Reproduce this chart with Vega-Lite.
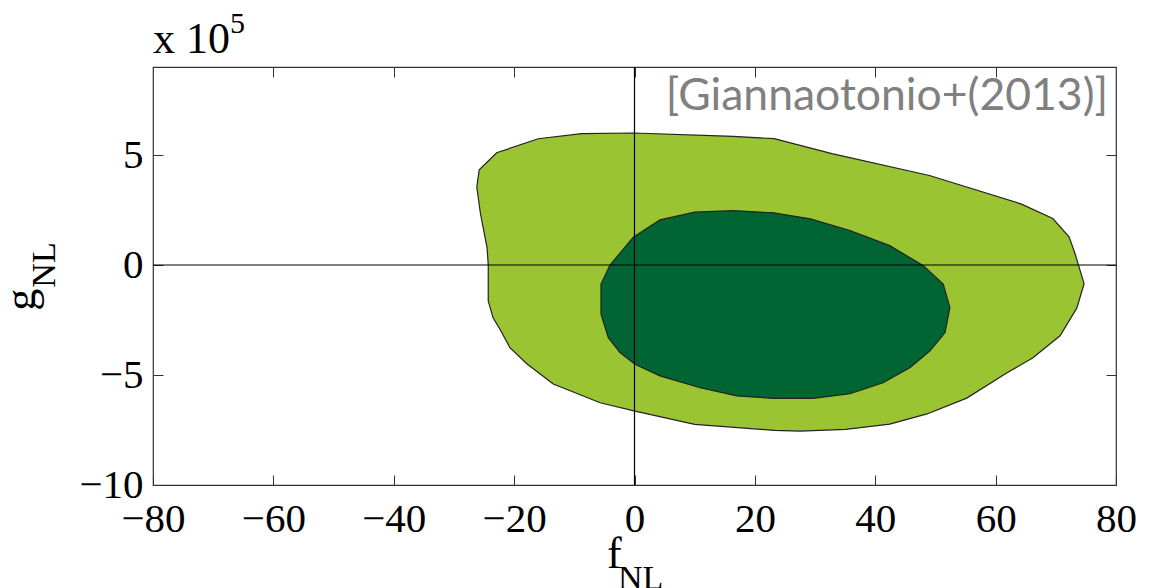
{
  "$schema": "https://vega.github.io/schema/vega-lite/v6.json",
  "width": 963,
  "height": 418,
  "autosize": "none",
  "padding": {"left": 153, "top": 67, "right": 35, "bottom": 103},
  "background": "white",
  "config": {
    "view": {"stroke": "#333", "strokeWidth": 1.2},
    "axis": {
      "grid": false,
      "domain": false,
      "tickSize": -10,
      "tickColor": "#333",
      "tickWidth": 1,
      "labelFont": "Liberation Serif",
      "labelFontSize": 41,
      "labelColor": "#000",
      "labelFlush": false,
      "labelOverlap": false,
      "title": null
    }
  },
  "datasets": {
    "outer": [
      {"i": 0, "f": -26.2, "g": 3.54}, {"i": 1, "f": -25.8, "g": 4.33}, {"i": 2, "f": -22.9, "g": 5.10},
      {"i": 3, "f": -16.0, "g": 5.74}, {"i": 4, "f": -8.8, "g": 5.97}, {"i": 5, "f": -0.1, "g": 6.00},
      {"i": 6, "f": 16.4, "g": 5.85}, {"i": 7, "f": 23.2, "g": 5.74}, {"i": 8, "f": 32.8, "g": 5.06},
      {"i": 9, "f": 49.0, "g": 4.07}, {"i": 10, "f": 64.2, "g": 2.78}, {"i": 11, "f": 69.5, "g": 2.11},
      {"i": 12, "f": 72.2, "g": 1.28}, {"i": 13, "f": 73.2, "g": 0.51}, {"i": 14, "f": 74.7, "g": -0.85},
      {"i": 15, "f": 73.5, "g": -1.95}, {"i": 16, "f": 70.7, "g": -3.22}, {"i": 17, "f": 66.2, "g": -4.22},
      {"i": 18, "f": 61.9, "g": -4.90}, {"i": 19, "f": 55.2, "g": -6.05}, {"i": 20, "f": 48.6, "g": -6.77},
      {"i": 21, "f": 42.4, "g": -7.23}, {"i": 22, "f": 35.1, "g": -7.47}, {"i": 23, "f": 27.5, "g": -7.55},
      {"i": 24, "f": 23.3, "g": -7.52}, {"i": 25, "f": 10.0, "g": -7.24}, {"i": 26, "f": -0.1, "g": -6.63},
      {"i": 27, "f": -5.7, "g": -6.26}, {"i": 28, "f": -13.5, "g": -5.41}, {"i": 29, "f": -17.9, "g": -4.49},
      {"i": 30, "f": -20.7, "g": -3.76}, {"i": 31, "f": -22.4, "g": -2.90}, {"i": 32, "f": -23.5, "g": -2.40},
      {"i": 33, "f": -24.3, "g": -1.63}, {"i": 34, "f": -24.3, "g": 0.01}, {"i": 35, "f": -24.5, "g": 0.79},
      {"i": 36, "f": -25.6, "g": 2.34}
    ],
    "inner": [
      {"i": 0, "f": -5.57, "g": -0.87}, {"i": 1, "f": -4.07, "g": 0.0}, {"i": 2, "f": -0.2, "g": 1.26},
      {"i": 3, "f": 4.24, "g": 2.05}, {"i": 4, "f": 10.0, "g": 2.40}, {"i": 5, "f": 16.4, "g": 2.47},
      {"i": 6, "f": 23.1, "g": 2.37}, {"i": 7, "f": 29.2, "g": 2.10}, {"i": 8, "f": 35.8, "g": 1.57},
      {"i": 9, "f": 42.4, "g": 0.88}, {"i": 10, "f": 48.0, "g": -0.03}, {"i": 11, "f": 51.3, "g": -0.87},
      {"i": 12, "f": 52.4, "g": -1.93}, {"i": 13, "f": 51.6, "g": -3.07}, {"i": 14, "f": 49.1, "g": -3.90},
      {"i": 15, "f": 45.8, "g": -4.66}, {"i": 16, "f": 41.3, "g": -5.35}, {"i": 17, "f": 35.8, "g": -5.85},
      {"i": 18, "f": 29.7, "g": -6.06}, {"i": 19, "f": 23.1, "g": -6.06}, {"i": 20, "f": 17.0, "g": -5.95},
      {"i": 21, "f": 10.9, "g": -5.58}, {"i": 22, "f": 4.24, "g": -5.04}, {"i": 23, "f": 0.08, "g": -4.51},
      {"i": 24, "f": -2.41, "g": -3.98}, {"i": 25, "f": -4.35, "g": -3.30}, {"i": 26, "f": -5.57, "g": -2.23}
    ]
  },
  "layer": [
    {
      "data": {"name": "outer"},
      "mark": {"type": "line", "interpolate": "linear-closed", "fill": "#9AC432", "stroke": "#222", "strokeWidth": 1.2},
      "encoding": {
        "x": {"field": "f", "type": "quantitative", "scale": {"domain": [-80, 80], "nice": false, "zero": false},
              "axis": {"orient": "bottom", "values": [-80, -60, -40, -20, 0, 20, 40, 60, 80], "labelPadding": 24, "labelFont": "Liberation Serif", "labelFlush": false}},
        "y": {"field": "g", "type": "quantitative", "scale": {"domain": [-10, 9], "nice": false, "zero": false},
              "axis": {"orient": "left", "values": [-10, -5, 0, 5], "labelPadding": 20, "labelFont": "Liberation Serif", "labelFlush": false}},
        "order": {"field": "i", "type": "quantitative"}
      }
    },
    {
      "data": {"name": "inner"},
      "mark": {"type": "line", "interpolate": "linear-closed", "fill": "#006532", "stroke": "#222", "strokeWidth": 1.2},
      "encoding": {
        "x": {"field": "f", "type": "quantitative", "axis": null},
        "y": {"field": "g", "type": "quantitative", "axis": null},
        "order": {"field": "i", "type": "quantitative"}
      }
    },
    {
      "data": {"values": [{}]},
      "mark": {"type": "rule", "color": "#000", "strokeWidth": 1.2},
      "encoding": {
        "x": {"datum": 0, "type": "quantitative",
              "axis": {"orient": "top", "values": [-60, -40, -20, 0, 20, 40, 60], "labels": false}}
      }
    },
    {
      "data": {"values": [{}]},
      "mark": {"type": "rule", "color": "#000", "strokeWidth": 1.2},
      "encoding": {
        "y": {"datum": 0, "type": "quantitative",
              "axis": {"orient": "right", "values": [-5, 0, 5], "labels": false}}
      }
    },
    {
      "data": {"values": [{}]},
      "mark": {"type": "text", "text": "x 10", "font": "Liberation Serif", "fontSize": 44, "align": "left", "baseline": "alphabetic", "color": "#000"},
      "encoding": {
        "x": {"datum": -80, "type": "quantitative", "axis": null},
        "y": {"datum": 9.64, "type": "quantitative", "axis": null}
      }
    },
    {
      "data": {"values": [{}]},
      "mark": {"type": "text", "text": "5", "font": "Liberation Serif", "fontSize": 30, "align": "left", "baseline": "alphabetic", "color": "#000"},
      "encoding": {
        "x": {"datum": -67.2, "type": "quantitative", "axis": null},
        "y": {"datum": 10.54, "type": "quantitative", "axis": null}
      }
    },
    {
      "data": {"values": [{}]},
      "mark": {"type": "text", "text": "f", "font": "Liberation Serif", "fontSize": 44, "align": "left", "baseline": "alphabetic", "color": "#000"},
      "encoding": {
        "x": {"datum": -4.57, "type": "quantitative", "axis": null},
        "y": {"datum": -13.79, "type": "quantitative", "axis": null}
      }
    },
    {
      "data": {"values": [{}]},
      "mark": {"type": "text", "text": "NL", "font": "Liberation Serif", "fontSize": 34, "align": "left", "baseline": "alphabetic", "color": "#000"},
      "encoding": {
        "x": {"datum": -2.74, "type": "quantitative", "axis": null},
        "y": {"datum": -14.72, "type": "quantitative", "axis": null}
      }
    },
    {
      "data": {"values": [{}]},
      "mark": {"type": "text", "text": "g", "font": "Liberation Serif", "fontSize": 44, "align": "left", "baseline": "alphabetic", "angle": 270, "color": "#000"},
      "encoding": {
        "x": {"datum": -99.6, "type": "quantitative", "axis": null},
        "y": {"datum": -2.08, "type": "quantitative", "axis": null}
      }
    },
    {
      "data": {"values": [{}]},
      "mark": {"type": "text", "text": "NL", "font": "Liberation Serif", "fontSize": 34, "align": "left", "baseline": "alphabetic", "angle": 270, "color": "#000"},
      "encoding": {
        "x": {"datum": -96.2, "type": "quantitative", "axis": null},
        "y": {"datum": -1.03, "type": "quantitative", "axis": null}
      }
    },
    {
      "data": {"values": [{}]},
      "mark": {"type": "text", "text": "[Giannaotonio+(2013)]", "font": "Lato", "fontSize": 44.5, "align": "right", "baseline": "alphabetic", "color": "#808080"},
      "encoding": {
        "x": {"datum": 78.7, "type": "quantitative", "axis": null},
        "y": {"datum": 7.03, "type": "quantitative", "axis": null}
      }
    }
  ],
  "resolve": {"axis": {"x": "independent", "y": "independent"}}
}
